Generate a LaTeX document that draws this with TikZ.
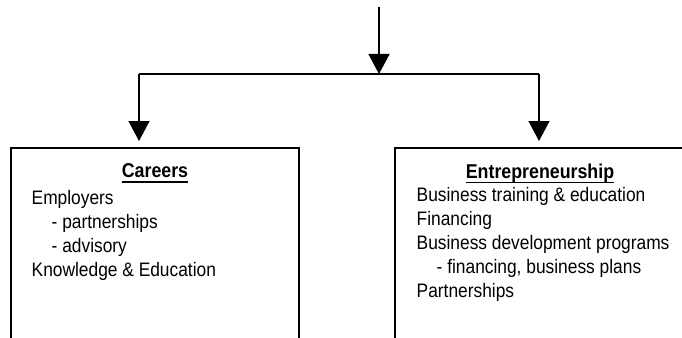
\documentclass[tikz,border=0pt]{standalone}
\usepackage{fontspec}
\setmainfont{Liberation Sans}[FakeStretch=0.89]
\usetikzlibrary{arrows.meta}
\tikzset{
  box/.style={draw, line width=2pt, minimum width=288pt, minimum height=260pt, inner sep=0pt, anchor=north},
  conn/.style={line width=1.5pt},
  arr/.style={conn, -{Triangle[length=20pt, width=21pt]}},
  body/.style={anchor=base west, inner sep=0pt, font=\fontsize{19.5}{24}\selectfont},
  title/.style={anchor=base, inner sep=0pt, font=\fontsize{20}{24}\selectfont\bfseries}
}
\newcommand\ttl[1]{\setbox0\hbox{#1}\rlap{\rule[-5.2pt]{\wd0}{1.5pt}}\box0}
\begin{document}
\begin{tikzpicture}[x=1pt,y=-1pt]
\useasboundingbox (0,0) rectangle (682,337);
\clip (0,0) rectangle (682,337);
% boxes
\node[box] (careers) at (155,147) {};
\node[box] (entre) at (539,147) {};
% connectors
\coordinate (src) at (379,7);
\coordinate (split) at (379,74);
\coordinate (lt) at (139,74);
\coordinate (rt) at (539,74);
\draw[arr] (src) -- (split);
\draw[conn] (lt) -- (rt);
\draw[arr, shorten >=6pt] (lt) -- (lt |- careers.north);
\draw[arr, shorten >=6pt] (rt) -- (rt |- entre.north);
% left box text
\node[title] (ct) at (155,177.5) {\ttl{Careers}};
\node[body] (c1) at (31.5,204) {Employers};
\node[body] (c2) at (51.5,228) {- partnerships};
\node[body] (c3) at (51.5,252) {- advisory};
\node[body] (c4) at (31.5,276) {Knowledge \& Education};
% right box text
\node[title] (et) at (540,178) {\ttl{Entrepreneurship}};
\node[body] (e1) at (416.5,201) {Business training \& education};
\node[body] (e2) at (416.5,225) {Financing};
\node[body] (e3) at (416.5,249) {Business development programs};
\node[body] (e4) at (436.5,273) {- financing, business plans};
\node[body] (e5) at (416.5,297) {Partnerships};
\end{tikzpicture}
\end{document}
